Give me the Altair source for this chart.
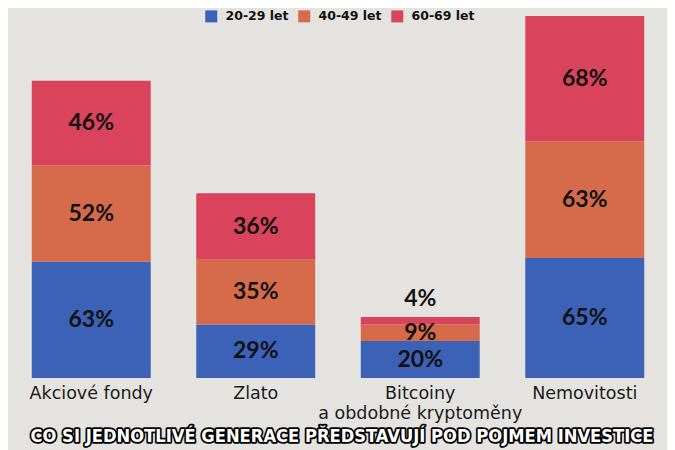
import altair as alt
import pandas as pd

categories = ["Akciové fondy", "Zlato", "Bitcoiny|a obdobné kryptoměny", "Nemovitosti"]
groups = ["20-29 let", "40-49 let", "60-69 let"]
v_20_29 = [63, 29, 20, 65]
v_40_49 = [52, 35, 9, 63]
v_60_69 = [46, 36, 4, 68]
colors = ["#3b62b6", "#d66b4b", "#d9435b"]
title_text = "CO SI JEDNOTLIVÉ GENERACE PŘEDSTAVUJÍ POD POJMEM INVESTICE"

rows = []
for gi, (g, vals) in enumerate(zip(groups, [v_20_29, v_40_49, v_60_69])):
    for c, v in zip(categories, vals):
        rows.append({"cat": c, "group": g, "value": v, "order": gi})
df = pd.DataFrame(rows)

yscale = alt.Scale(domain=[0, 196], nice=False, zero=True)
xenc = alt.X(
    "cat:N",
    sort=categories,
    scale=alt.Scale(paddingInner=0.277, paddingOuter=0.1385),
    axis=alt.Axis(
        title=None, domain=False, ticks=False, labelAngle=0,
        labelFont="DejaVu Sans", labelFontSize=17.5, labelColor="#1a1a1a",
        labelPadding=6, labelLineHeight=20, labelLimit=400,
        labelExpr="split(datum.label, '|')",
    ),
)

bars = alt.Chart(df).mark_bar().encode(
    x=xenc,
    y=alt.Y("value:Q", stack="zero", scale=yscale, axis=None),
    color=alt.Color(
        "group:N",
        scale=alt.Scale(domain=groups, range=colors),
        legend=alt.Legend(
            title=None, orient="none", direction="horizontal",
            legendX=196, legendY=-6, padding=0,
            symbolType="square", symbolSize=144, symbolStrokeWidth=0,
            labelFont="DejaVu Sans", labelFontSize=12.5, labelFontWeight="bold",
            labelColor="#111111", labelOffset=8, columnPadding=9,
        ),
    ),
    order=alt.Order("order:Q", sort="ascending"),
)

stacked = alt.Chart(df).transform_stack(
    stack="value", groupby=["cat"], as_=["y0", "y1"],
    sort=[alt.SortField("order", order="ascending")],
).transform_calculate(
    mid="(datum.y0 + datum.y1) / 2", lbl="datum.value + '%'"
)

labels = stacked.transform_filter("datum.value >= 6").mark_text(
    font="Lato", fontSize=23, fontWeight="bold", color="#111111", baseline="middle"
).encode(x=alt.X("cat:N", sort=categories), y=alt.Y("mid:Q", scale=yscale), text="lbl:N")

small_labels = stacked.transform_filter("datum.value < 6").mark_text(
    font="Lato", fontSize=23, fontWeight="bold", color="#111111", baseline="middle", dy=-18
).encode(x=alt.X("cat:N", sort=categories), y=alt.Y("y1:Q", scale=yscale), text="lbl:N")

tdf = pd.DataFrame({"t": [title_text]})
title_font = "Liberation Sans Narrow, DejaVu Sans Condensed, sans-serif"
title_back = alt.Chart(tdf).mark_text(
    font=title_font, fontSize=18.2, fontWeight="bold", color="#000000",
    stroke="#000000", strokeWidth=3.5, strokeJoin="round", baseline="middle",
).encode(x=alt.value(333), y=alt.value(421), text="t:N")
title_front = alt.Chart(tdf).mark_text(
    font=title_font, fontSize=18.2, fontWeight="bold", color="#ffffff", baseline="middle",
).encode(x=alt.value(333), y=alt.value(421), text="t:N")

chart = alt.layer(bars, labels, small_labels, title_back, title_front).properties(
    width=658, height=362,
    autosize=alt.AutoSizeParams(type="none"),
    padding={"left": 1, "top": 8, "right": 0, "bottom": 72},
    background="#e5e3df",
).configure_view(stroke=None)

chart.save("out.html", embed_options={"renderer": "svg", "actions": False})
